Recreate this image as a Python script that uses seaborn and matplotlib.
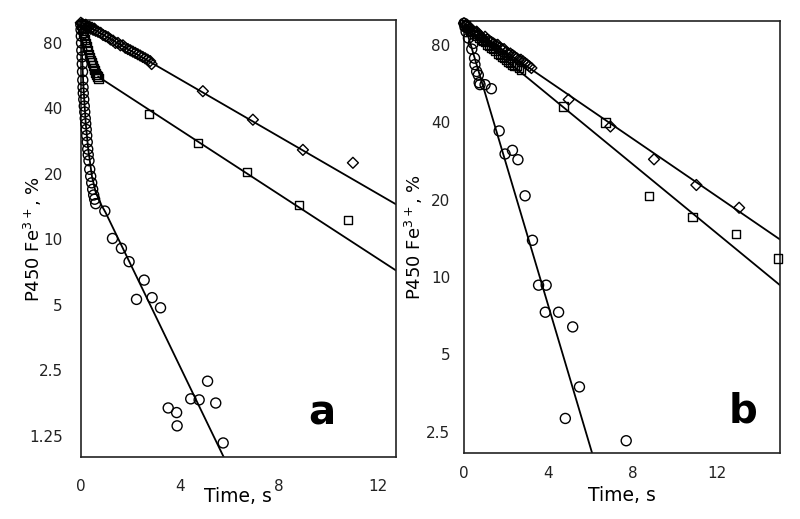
import numpy as np
import pandas as pd
import matplotlib
matplotlib.use("Agg")
import matplotlib.pyplot as plt
from matplotlib.ticker import FixedLocator, FixedFormatter, NullLocator
import seaborn as sns

# ---------------- panel a ----------------
a_circle_t = [0.00, 0.01, 0.02, 0.03, 0.04, 0.05, 0.06, 0.07, 0.08, 0.09, 0.10,
              0.12, 0.14, 0.16, 0.18, 0.20, 0.22, 0.24, 0.26, 0.28, 0.30, 0.33,
              0.36, 0.40, 0.44, 0.48, 0.52, 0.56, 0.60,
              0.97, 1.28, 1.64, 1.95, 2.25, 2.56, 2.88, 3.22, 3.53, 3.87, 3.89,
              4.44, 4.78, 5.12, 5.45, 5.75]
a_circle_v = [97, 92, 86, 80, 74, 69, 64, 59, 54, 50, 47,
              44, 41, 38.5, 36, 34, 32, 30, 28, 26, 24.5, 23,
              21, 19.5, 18.2, 17, 16, 15.3, 14.6,
              13.5, 10.1, 9.1, 7.9, 5.3, 6.5, 5.4, 4.85, 1.68, 1.6, 1.39,
              1.85, 1.83, 2.23, 1.77, 1.16]

a_square_t = [0.00, 0.04, 0.08, 0.12, 0.16, 0.20, 0.24, 0.28, 0.32, 0.36, 0.40,
              0.44, 0.48, 0.52, 0.56, 0.60, 0.64, 0.68, 0.72,
              2.75, 4.74, 6.70, 8.82, 10.80]
a_square_v = [97, 93, 89, 86, 83, 80, 77, 74, 71, 69, 67,
              65, 63, 61, 60, 58, 57, 56, 55,
              37.8, 27.7, 20.4, 14.4, 12.3]

a_diamond_t = [0.00, 0.05, 0.10, 0.15, 0.20, 0.25, 0.30, 0.35, 0.40, 0.45, 0.50,
               0.55, 0.60, 0.70, 0.80, 0.90, 1.00, 1.10, 1.20, 1.30, 1.40, 1.50,
               1.60, 1.70, 1.80, 1.90, 2.00, 2.10, 2.20, 2.30, 2.40, 2.50, 2.60,
               2.70, 2.80, 2.86,
               4.93, 6.95, 8.97, 10.99]
a_diamond_v = [99, 98, 97, 96, 97, 95, 94, 95, 93, 94, 92,
               93, 91, 90, 89, 87, 86, 85, 83, 82, 80, 80,
               78, 78, 76, 75, 74, 73, 72, 71, 70, 69, 68,
               67, 66, 64,
               48, 35.5, 25.8, 22.5]

a_fit_circle_t = [0.00, 0.05, 0.10, 0.20, 0.30, 0.45, 0.60, 0.80, 1.00, 5.77]
a_fit_circle_v = [97, 70, 52, 34, 26, 19.5, 16.5, 14.6, 13.3, 1.0]
a_fit_square_t = [0.70, 12.73]
a_fit_square_v = [56, 7.2]
a_fit_diamond_t = [0.00, 12.73]
a_fit_diamond_v = [100, 14.5]

a_yticks = [1.25, 2.5, 5, 10, 20, 40, 80]
a_ylabels = ["1.25", "2.5", "5", "10", "20", "40", "80"]
a_xticks = [0, 4, 8, 12]

# ---------------- panel b ----------------
b_circle_t = [0.00, 0.05, 0.10, 0.21, 0.37, 0.44, 0.50, 0.52, 0.60, 0.68, 0.72,
              0.76, 1.00, 1.30, 1.67, 1.95, 2.30, 2.56, 2.90, 3.25, 3.54, 3.90,
              3.86, 4.49, 5.16, 5.48, 4.81, 7.70]
b_circle_v = [97, 94, 90, 85, 77, 81, 71, 67, 63, 61, 57,
              56, 56, 54, 37, 30.1, 31.1, 28.6, 20.7, 13.9, 9.3, 9.3,
              7.3, 7.3, 6.4, 3.74, 2.82, 2.31]

b_square_t = [0.0, 0.1, 0.2, 0.3, 0.4, 0.5, 0.6, 0.7, 0.8, 0.9, 1.0, 1.1, 1.2,
              1.3, 1.4, 1.5, 1.6, 1.7, 1.8, 1.9, 2.0, 2.1, 2.2, 2.3, 2.4, 2.5,
              2.6, 2.7,
              4.73, 6.71, 8.78, 10.84, 12.90, 14.89]
b_square_v = [96, 95, 93, 91, 90, 88, 87, 85, 84, 83, 82, 80, 79,
              78, 77, 76, 74, 73, 72, 71, 70, 69, 68, 67, 66, 66,
              65, 64,
              46, 39.9, 20.7, 17.1, 14.7, 11.8]

b_diamond_t = [0.0, 0.1, 0.2, 0.3, 0.4, 0.5, 0.6, 0.7, 0.8, 0.9, 1.0, 1.1, 1.2,
               1.3, 1.4, 1.5, 1.6, 1.7, 1.8, 1.9, 2.0, 2.1, 2.2, 2.3, 2.4, 2.5,
               2.6, 2.7, 2.8, 2.9, 3.0, 3.1, 3.2,
               4.97, 6.95, 9.02, 11.03, 13.06]
b_diamond_v = [97, 95, 94, 93, 91, 89, 90, 88, 86, 85, 86, 84, 83,
               82, 81, 80, 80, 78, 77, 77, 75, 74, 74, 73, 72, 71,
               70, 70, 69, 68, 67, 66, 65,
               49, 38.5, 28.7, 22.8, 18.6]

b_fit_circle_t = [0.00, 6.08]
b_fit_circle_v = [98, 2.07]
b_fit_square_t = [0.00, 15.0]
b_fit_square_v = [95, 9.3]
b_fit_diamond_t = [0.00, 15.0]
b_fit_diamond_v = [97, 14]

b_yticks = [2.5, 5, 10, 20, 40, 80]
b_ylabels = ["2.5", "5", "10", "20", "40", "80"]
b_xticks = [0, 4, 8, 12]


def draw_panel(ax, series, fits, yticks, ylabels, xticks, xlim, ylim,
               letter, letter_xy, ylabel_x, xlabel_y, ypad, xpad):
    # fitted lines
    for t, v in fits:
        sns.lineplot(x=t, y=v, color="black", linewidth=1.3, estimator=None,
                     sort=False, ax=ax)
    # data points, open markers
    for t, v, marker, size in series:
        sns.scatterplot(x=t, y=v, marker=marker, s=size, facecolors="none",
                        edgecolor="black", linewidth=1.0, ax=ax, clip_on=False,
                        zorder=3)

    ax.set_yscale("log")
    ax.set_xlim(*xlim)
    ax.set_ylim(*ylim)
    ax.yaxis.set_major_locator(FixedLocator(yticks))
    ax.yaxis.set_major_formatter(FixedFormatter(ylabels))
    ax.yaxis.set_minor_locator(NullLocator())
    ax.set_xticks(xticks)
    ax.set_xticklabels([str(x) for x in xticks])

    ax.tick_params(axis="x", direction="out", length=5, width=1, pad=xpad,
                   labelsize=11, colors="#222222")
    ax.tick_params(axis="y", direction="out", length=6.5, width=1, pad=ypad,
                   labelsize=11, colors="#222222")
    for sp in ax.spines.values():
        sp.set_visible(True)
        sp.set_linewidth(1.2)
        sp.set_color("#222222")

    ax.set_xlabel("Time, s", fontsize=13.5, color="black")
    ax.xaxis.label.set_verticalalignment("center")
    ax.xaxis.set_label_coords(0.5, xlabel_y)
    ax.set_ylabel("P450 Fe$^{3+}$, %", fontsize=13, color="black")
    ax.yaxis.label.set_verticalalignment("center")
    ax.yaxis.label.set_horizontalalignment("center")
    ax.yaxis.set_label_coords(ylabel_x, 0.5)

    ax.text(letter_xy[0], letter_xy[1], letter, transform=ax.transAxes,
            fontsize=29, fontweight="bold", ha="center", va="center",
            color="black")


sns.set_style("white")
plt.rcParams["font.family"] = ["DejaVu Sans"]
plt.rcParams["mathtext.fontset"] = "dejavusans"

fig = plt.figure(figsize=(8.0, 5.19), dpi=100)
ax_a = fig.add_axes([0.101, 0.1195, 0.394, 0.842])
ax_b = fig.add_axes([0.580, 0.1272, 0.395, 0.8323])

draw_panel(
    ax_a,
    [(a_circle_t, a_circle_v, "o", 52),
     (a_square_t, a_square_v, "s", 36),
     (a_diamond_t, a_diamond_v, "D", 31)],
    [(a_fit_circle_t, a_fit_circle_v),
     (a_fit_square_t, a_fit_square_v),
     (a_fit_diamond_t, a_fit_diamond_v)],
    a_yticks, a_ylabels, a_xticks, (0, 12.73), (1.0, 102),
    "a", (0.765, 0.10), -0.152, -0.0915, 6.5, 11)

draw_panel(
    ax_b,
    [(b_circle_t, b_circle_v, "o", 52),
     (b_square_t, b_square_v, "s", 36),
     (b_diamond_t, b_diamond_v, "D", 31)],
    [(b_fit_circle_t, b_fit_circle_v),
     (b_fit_square_t, b_fit_square_v),
     (b_fit_diamond_t, b_fit_diamond_v)],
    b_yticks, b_ylabels, b_xticks, (0, 15), (2.07, 99),
    "b", (0.883, 0.095), -0.157, -0.0995, 3.5, 4.5)

fig.savefig("out.png", dpi=100)
